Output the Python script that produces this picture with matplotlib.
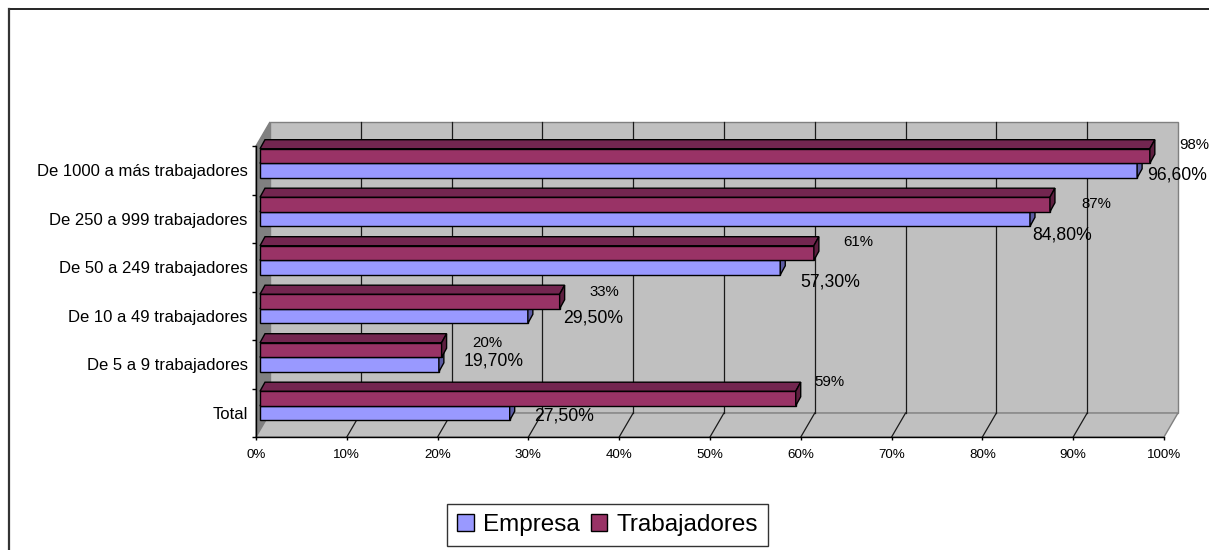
"""
3D-style clustered bar chart (Excel look): Empresa vs Trabajadores by company size.
"""
import matplotlib
matplotlib.use("Agg")
import matplotlib.pyplot as plt
from matplotlib.patches import Polygon, Rectangle, Patch
from matplotlib.lines import Line2D

plt.rcParams["font.family"] = ["Liberation Sans", "DejaVu Sans"]

# Data (bottom to top)
CATEGORIES = [
    "Total",
    "De 5 a 9 trabajadores",
    "De 10 a 49 trabajadores",
    "De 50 a 249 trabajadores",
    "De 250 a 999 trabajadores",
    "De 1000 a más trabajadores",
]
EMPRESA = [27.5, 19.7, 29.5, 57.3, 84.8, 96.6]
TRABAJADORES = [59, 20, 33, 61, 87, 98]
X_TICKS = [0, 10, 20, 30, 40, 50, 60, 70, 80, 90, 100]
X_TICK_LABELS = [f"{t}%" for t in X_TICKS]

# Label nudges in pixels (right, up) from the end of each bar front face
TRAB_NUDGE = [(34, 16.5), (46, 7), (45, 9.5), (44, 11), (46, 0), (44, 11)]
EMP_NUDGE = [(54, -3), (55, 3.5), (65, -2), (50, -14.5), (32, -16), (39.5, -4.5)]

# Colours
EMP_FRONT = "#9999FF"
EMP_SIDE = "#5C5CA3"
TRAB_FRONT = "#993366"
TRAB_TOP = "#732650"
TRAB_SIDE = "#5E1F40"
WALL = "#C0C0C0"
SIDE_WALL = "#808080"
EDGE_GRAY = "#808080"

# 3D geometry (data units)
DX, DY = 1.54, 0.495        # full depth of the plot box
SHIFT_X, SHIFT_Y = 0.44, 0.144  # bar front face offset from front plane
BDX, BDY = 0.55, 0.186      # bar depth
BAR_H = 0.30


def bar3d(ax, y0, values, front, top, side):
    ys = [i + y0 for i in range(len(values))]
    ax.barh(ys, values, left=SHIFT_X, height=BAR_H, align="edge",
            color=front, edgecolor="black", linewidth=1, zorder=3)
    for y, v in zip(ys, values):
        x0, x1 = SHIFT_X, SHIFT_X + v
        yt = y + BAR_H
        ax.add_patch(Polygon([(x0, yt), (x1, yt), (x1 + BDX, yt + BDY), (x0 + BDX, yt + BDY)],
                             closed=True, facecolor=top, edgecolor="black", lw=1,
                             zorder=3, clip_on=False))
        ax.add_patch(Polygon([(x1, y), (x1 + BDX, y + BDY), (x1 + BDX, yt + BDY), (x1, yt)],
                             closed=True, facecolor=side, edgecolor="black", lw=1,
                             zorder=3, clip_on=False))


fig = plt.figure(figsize=(12.09, 5.5), dpi=100)
fig.set_facecolor("white")
ax = fig.add_axes([256 / 1209, 113 / 550, 908 / 1209, 291 / 550])
ax.set_facecolor("none")
ax.set_xlim(0, 100)
ax.set_ylim(-0.5, 5.5)

# Walls
ax.add_patch(Rectangle((DX, -0.5 + DY), 100, 6, facecolor=WALL, edgecolor=EDGE_GRAY,
                       lw=1, zorder=0, clip_on=False))
ax.add_patch(Polygon([(0, -0.5), (DX, -0.5 + DY), (DX, 5.5 + DY), (0, 5.5)], closed=True,
                     facecolor=SIDE_WALL, edgecolor=EDGE_GRAY, lw=1, zorder=0, clip_on=False))
ax.add_patch(Polygon([(0, -0.5), (100, -0.5), (100 + DX, -0.5 + DY), (DX, -0.5 + DY)],
                     closed=True, facecolor=WALL, edgecolor=EDGE_GRAY, lw=1, zorder=0,
                     clip_on=False))

# Gridlines on back wall and floor
for t in X_TICKS[1:-1]:
    ax.plot([t + DX, t + DX], [-0.5 + DY, 5.5 + DY], color="#1a1a1a", lw=0.9,
            zorder=1, clip_on=False)
    ax.plot([t, t + DX], [-0.5, -0.5 + DY], color="#1a1a1a", lw=0.9, zorder=1,
            clip_on=False)

# Bars
bar3d(ax, SHIFT_Y - BAR_H, EMPRESA, EMP_FRONT, EMP_FRONT, EMP_SIDE)
bar3d(ax, SHIFT_Y, TRABAJADORES, TRAB_FRONT, TRAB_TOP, TRAB_SIDE)

# Value labels
for i, (v, (nx, ny)) in enumerate(zip(TRABAJADORES, TRAB_NUDGE)):
    ax.annotate(f"{v:.0f}%", (v + SHIFT_X, i + SHIFT_Y + BAR_H / 2),
                xytext=(nx, ny), textcoords="offset pixels", ha="center", va="center",
                fontsize=10.8, color="black", zorder=5, annotation_clip=False)
for i, (v, (nx, ny)) in enumerate(zip(EMPRESA, EMP_NUDGE)):
    label = f"{v:.2f}".replace(".", ",") + "%"
    ax.annotate(label, (v + SHIFT_X, i + SHIFT_Y - BAR_H / 2),
                xytext=(nx, ny), textcoords="offset pixels", ha="center", va="center",
                fontsize=12.7, color="black", zorder=5, annotation_clip=False)

# Axes, ticks
for side in ["top", "right"]:
    ax.spines[side].set_visible(False)
for side in ["left", "bottom"]:
    ax.spines[side].set_color("black")
    ax.spines[side].set_linewidth(1)
    ax.spines[side].set_zorder(2)

ax.set_xticks(X_TICKS)
ax.set_xticklabels(X_TICK_LABELS, fontsize=9.6)
ax.tick_params(axis="x", direction="out", length=2.5, width=1, pad=6, colors="black")

ax.set_yticks([i - 0.5 for i in range(len(CATEGORIES) + 1)])
ax.set_yticklabels([])
ax.set_yticks(range(len(CATEGORIES)), minor=True)
ax.set_yticklabels(CATEGORIES, minor=True, fontsize=12)
ax.tick_params(axis="y", which="major", direction="out", length=3, width=1)
ax.tick_params(axis="y", which="minor", length=0, pad=6)

# Legend
handles = [Patch(facecolor=EMP_FRONT, edgecolor="black", lw=1, label="Empresa"),
           Patch(facecolor=TRAB_FRONT, edgecolor="black", lw=1, label="Trabajadores")]
leg = fig.legend(handles=handles, loc="center", bbox_to_anchor=(607.5 / 1209, 1 - 525 / 550),
                 ncol=2, frameon=True, fancybox=False, edgecolor="black", fontsize=17.5,
                 handlelength=0.68, handleheight=0.68, handletextpad=0.37,
                 columnspacing=0.45, borderpad=0.42, borderaxespad=0)
leg.get_frame().set_linewidth(1)

# Outer chart-area border (top and left edges visible)
fig.add_artist(Line2D([9 / 1209, 1], [1 - 9 / 550, 1 - 9 / 550], transform=fig.transFigure,
                      color="black", lw=1.2))
fig.add_artist(Line2D([9 / 1209, 9 / 1209], [0, 1 - 9 / 550], transform=fig.transFigure,
                      color="#333333", lw=1.6))

fig.savefig("out.png", dpi=100, facecolor="white")
